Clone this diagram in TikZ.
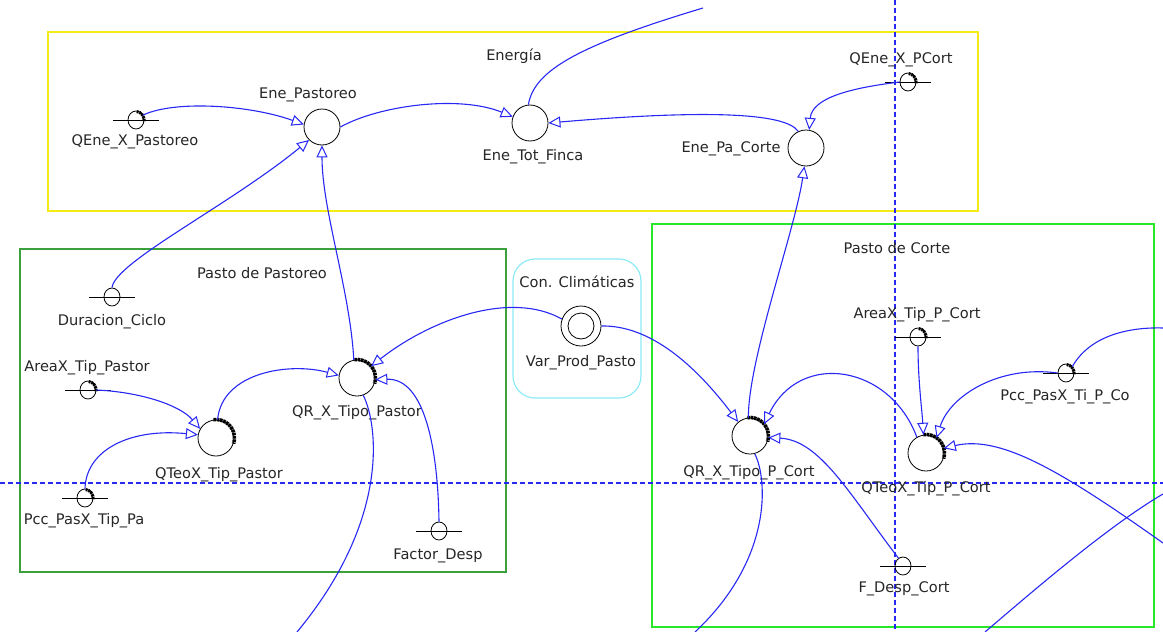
\documentclass[tikz,border=0pt]{standalone}
\usepackage{fontspec}
\setmainfont{DejaVu Sans}
\usetikzlibrary{arrows.meta,shapes.geometric}
\definecolor{linkblue}{RGB}{40,40,245}
\definecolor{boxyellow}{RGB}{245,235,20}
\definecolor{boxgreen}{RGB}{60,160,60}
\definecolor{boxlime}{RGB}{40,230,40}
\definecolor{boxcyan}{RGB}{140,235,245}
\begin{document}
\begin{tikzpicture}[x=1pt,y=1pt,
  every node/.style={font=\fontsize{14.6}{17}\selectfont},
  aux/.style={circle,draw=black,line width=0.8pt,minimum size=36pt,inner sep=0pt},
  cst/.style={ellipse,draw=black,line width=0.8pt,minimum width=16pt,minimum height=18pt,inner sep=0pt},
  lbl/.style={inner sep=0pt,text=black!85},
  conn/.style={draw=linkblue,line width=1.1pt,-{Triangle[open,length=12pt,width=11pt,line width=1pt]}},
  plainconn/.style={draw=linkblue,line width=1.1pt},
  hatch/.style={draw=black,line width=3.6pt,dash pattern=on 2.6pt off 0.7pt},
  group/.style={line width=1.2pt}]
\fill[white] (0,0) rectangle (1163,-632);
\useasboundingbox (0,0) rectangle (1163,-632);

% group frames
\draw[group,boxyellow] (48,-32) rectangle (978,-211);
\draw[group,boxgreen] (20,-249) rectangle (506,-572);
\draw[group,boxlime] (652,-224) rectangle (1154,-627);
\draw[group,boxcyan,rounded corners=22pt] (513,-259) rectangle (641,-398);

% dashed guide lines
\draw[draw=linkblue,line width=1.1pt,dash pattern=on 5pt off 3pt] (0,-483) -- (1163,-483);
\draw[draw=linkblue,line width=1.1pt,dash pattern=on 5pt off 3pt] (895,0) -- (895,-632);

% group titles
\node[lbl] (tEne) at (514,-56) {Energía};
\node[lbl] (tPas) at (262,-273) {Pasto de Pastoreo};
\node[lbl] (tCor) at (897,-248) {Pasto de Corte};
\node[lbl] (tCli) at (577,-282) {Con. Climáticas};

% variables
\node[aux] (enep) at (322,-127) {};
\node[aux] (etf) at (530,-123) {};
\node[aux] (epc) at (806,-148) {};
\node[aux] (qrp) at (357,-378) {};
\node[aux] (qtp) at (216,-438) {};
\node[aux] (qrc) at (750,-436) {};
\node[aux] (qtc) at (926,-453) {};
\node[aux,minimum size=40pt] (vpp) at (581,-326) {};
\node[circle,draw=black,line width=0.8pt,minimum size=26pt,inner sep=0pt] (vppin) at (vpp.center) {};

% constants
\node[cst] (qep) at (136,-120) {};
\node[cst] (qepc) at (908,-82) {};
\node[cst] (dur) at (112,-297) {};
\node[cst] (atp) at (88,-390) {};
\node[cst] (pcp) at (85,-498) {};
\node[cst] (fds) at (439,-531) {};
\node[cst] (atc) at (918,-337) {};
\node[cst] (pcc) at (1066,-373) {};
\node[cst] (fdc) at (903,-566) {};
\foreach \c in {qep,qepc,dur,atp,pcp,fds,atc,pcc,fdc}
  \draw[black,line width=0.8pt] (\c.center) +(-23,0) -- +(23,0);

% hatched arcs on variables
\foreach \c in {qrp,qtp,qrc,qtc}
  \draw[hatch] (\c.center) ++(98:18.5) arc[start angle=98,end angle=-18,radius=18.5];
\foreach \c in {qep,qepc,atp,pcp,atc,pcc}
  \draw[hatch,line width=3pt,dash pattern=on 2pt off 0.7pt] (\c.center) ++(85:8.5) arc[start angle=85,end angle=-5,x radius=8.2,y radius=9.2];

% labels
\node[lbl] (lEnep) at (308,-95) {Ene\_Pastoreo};
\node[lbl] (lEtf) at (533,-157) {Ene\_Tot\_Finca};
\node[lbl] (lEpc) at (731,-149) {Ene\_Pa\_Corte};
\node[lbl] (lQepc) at (901,-60) {QEne\_X\_PCort};
\node[lbl] (lQep) at (135,-142) {QEne\_X\_Pastoreo};
\node[lbl] (lDur) at (112,-322) {Duracion\_Ciclo};
\node[lbl] (lAtp) at (87,-368) {AreaX\_Tip\_Pastor};
\node[lbl] (lPcp) at (84,-521) {Pcc\_PasX\_Tip\_Pa};
\node[lbl] (lQtp) at (219,-475) {QTeoX\_Tip\_Pastor};
\node[lbl] (lQrp) at (357,-413) {QR\_X\_Tipo\_Pastor};
\node[lbl] (lFds) at (438,-556) {Factor\_Desp};
\node[lbl] (lVpp) at (581,-363) {Var\_Prod\_Pasto};
\node[lbl] (lQrc) at (749,-473) {QR\_X\_Tipo\_P\_Cort};
\node[lbl] (lQtc) at (926,-489) {QTeoX\_Tip\_P\_Cort};
\node[lbl] (lAtc) at (917,-315) {AreaX\_Tip\_P\_Cort};
\node[lbl] (lPcc) at (1065,-397) {Pcc\_PasX\_Ti\_P\_Co};
\node[lbl] (lFdc) at (904,-589) {F\_Desp\_Cort};

% free ends of links leaving the view
\coordinate (offA) at (703,-8);
\coordinate (offB) at (297,-632);
\coordinate (offC) at (695,-632);
\coordinate (offD) at (1163,-328);
\coordinate (offE) at (1163,-543);
\coordinate (offF) at (985,-632);
\coordinate (offG) at (1163,-494);

% links
\draw[conn] (qep.35) .. controls (175,-100) and (250,-105) .. (enep.172);
\draw[conn] (dur.north) .. controls (115,-262) and (230,-205) .. (enep.225);
\draw[conn] (qrp.100) .. controls (350,-290) and (322,-210) .. (enep.south);
\draw[conn] (enep.east) .. controls (380,-105) and (460,-95) .. (etf.160);
\draw[conn] (epc.115) .. controls (785,-112) and (700,-110) .. (etf.east);
\draw[plainconn] (etf.95) .. controls (534,-70) and (580,-45) .. (offA);
\draw[conn] (qepc.west) .. controls (850,-88) and (812,-98) .. (epc.80);
\draw[conn] (qrc.95) .. controls (748,-360) and (795,-230) .. (epc.265);
\draw[conn] (atp.east) .. controls (140,-392) and (180,-405) .. (qtp.150);
\draw[conn] (pcp.north) .. controls (86,-450) and (130,-428) .. (qtp.170);
\draw[conn] (qtp.85) .. controls (222,-372) and (290,-362) .. (qrp.172);
\draw[conn] (fds.north) .. controls (438,-450) and (425,-378) .. (qrp.-5);
\draw[conn] (vpp.160) .. controls (510,-290) and (430,-320) .. (qrp.40);
\draw[plainconn] (qrp.-70) .. controls (378,-425) and (390,-520) .. (offB);
\draw[conn] (vpp.east) .. controls (650,-325) and (695,-365) .. (qrc.130);
\draw[conn] (qtc.120) .. controls (890,-365) and (800,-350) .. (qrc.40);
\draw[conn] (fdc.120) .. controls (850,-495) and (820,-440) .. (qrc.-5);
\draw[plainconn] (qrc.-75) .. controls (768,-480) and (772,-560) .. (offC);
\draw[conn] (atc.south) .. controls (918,-380) and (922,-410) .. (qtc.98);
\draw[conn] (pcc.west) .. controls (1000,-365) and (950,-395) .. (qtc.55);
\draw[plainconn] (pcc.45) .. controls (1090,-335) and (1130,-327) .. (offD);
\draw[conn] (offE) .. controls (1060,-470) and (1000,-435) .. (qtc.15);
\draw[plainconn] (offF) .. controls (1040,-585) and (1110,-525) .. (offG);
\end{tikzpicture}
\end{document}
